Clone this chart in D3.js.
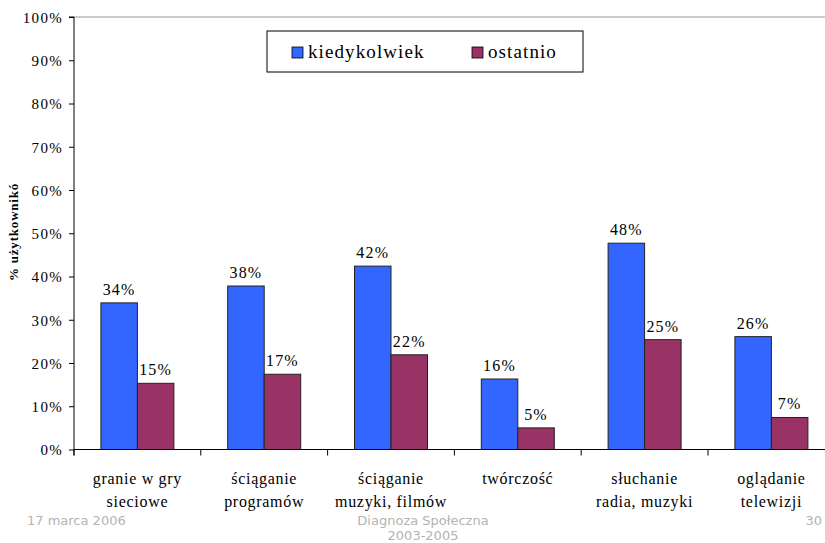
<!DOCTYPE html>
<html><head><meta charset="utf-8">
<script src="https://cdn.jsdelivr.net/npm/d3@7"></script>
<style>body{margin:0;background:#fff}svg{display:block}</style>
</head><body><svg id="c" width="825" height="543"></svg>
<script>
const categories = [["granie w gry","sieciowe"],["ściąganie","programów"],["ściąganie","muzyki, filmów"],["twórczość"],["słuchanie","radia, muzyki"],["oglądanie","telewizji"]];
const seriesNames = ["kiedykolwiek","ostatnio"];
const kiedykolwiek = [33.9, 37.8, 42.4, 16.3, 47.7, 26.1];
const ostatnio = [15.3, 17.4, 21.9, 5.0, 25.4, 7.4];
const yTicks = [0,10,20,30,40,50,60,70,80,90,100];
const colors = ["#3366FF","#993366"];

const svg = d3.select("#c");
const catKeys = categories.map((c,i)=>i);
const x0 = d3.scaleBand().domain(catKeys).range([74, 834.8]).padding(0);
const x1 = d3.scaleBand().domain(seriesNames).range([0, x0.bandwidth()]).paddingInner(0).paddingOuter(0.737);
const y = d3.scaleLinear().domain([0,100]).range([449.5, 17]);
const serif = "'Liberation Serif','Times New Roman',serif";

// top border line
svg.append("line").attr("x1",74).attr("x2",825).attr("y1",y(100)).attr("y2",y(100)).attr("stroke","#999").attr("stroke-width",1.2);

// y axis
const yAxis = d3.axisLeft(y).tickValues(yTicks).tickFormat(d=>d+"%").tickSize(5).tickPadding(6);
const ya = svg.append("g").attr("transform","translate(74,0)").call(yAxis);
ya.select(".domain").attr("stroke","#000").attr("d","M-5,"+y(100)+"H0V"+(y(0)+6));
ya.selectAll("text").attr("font-family",serif).attr("font-size",15).attr("letter-spacing",1.3).attr("fill","#000").attr("dy","0.35em");
ya.selectAll(".tick line").attr("stroke","#000");

// bars
const data = [kiedykolwiek, ostatnio];
const g = svg.append("g");
seriesNames.forEach((s,si)=>{
  g.selectAll(".b"+si).data(data[si]).enter().append("rect")
    .attr("x",(d,i)=>x0(i)+x1(s)).attr("width",x1.bandwidth())
    .attr("y",d=>y(d)).attr("height",d=>y(0)-y(d))
    .attr("fill",colors[si]).attr("stroke","#222").attr("stroke-width",1);
  g.selectAll(".l"+si).data(data[si]).enter().append("text")
    .attr("x",(d,i)=>x0(i)+x1(s)+x1.bandwidth()/2).attr("y",d=>y(d)-8)
    .attr("text-anchor","middle").attr("font-family",serif).attr("font-size",16)
    .attr("letter-spacing",1.2).text(d=>Math.round(d)+"%");
});

// x axis
svg.append("line").attr("x1",74).attr("x2",825).attr("y1",y(0)).attr("y2",y(0)).attr("stroke","#000");
catKeys.forEach(i=>{
  svg.append("line").attr("x1",x0(i)).attr("x2",x0(i)).attr("y1",y(0)).attr("y2",y(0)+6).attr("stroke","#000");
  const t = svg.append("text").attr("text-anchor","middle").attr("font-family",serif).attr("font-size",16).attr("letter-spacing",0.7);
  categories[i].forEach((ln,k)=>{
    t.append("tspan").attr("x",x0(i)+x0.bandwidth()/2).attr("y",484+k*23).text(ln);
  });
});

// y title
svg.append("text").attr("transform","translate(18,232) rotate(-90)").attr("text-anchor","middle")
  .attr("font-family",serif).attr("font-weight","bold").attr("font-size",13).attr("letter-spacing",0.8).text("% użytkownikó");

// legend
const lg = svg.append("g");
lg.append("rect").attr("x",267).attr("y",31).attr("width",316).attr("height",41).attr("fill","#fff").attr("stroke","#000");
const legX = [292, 472];
seriesNames.forEach((s,si)=>{
  lg.append("rect").attr("x",legX[si]).attr("y",47).attr("width",11).attr("height",11).attr("fill",colors[si]).attr("stroke","#000").attr("stroke-width",0.8);
  lg.append("text").attr("x",legX[si]+16).attr("y",58).attr("font-family",serif).attr("font-size",19).attr("letter-spacing",1.1).text(s);
});

// footer
const sans = "'DejaVu Sans',Verdana,sans-serif";
const foot = [["17 marca 2006",27,525,"start"],["Diagnoza Społeczna",423,525,"middle"],["2003-2005",423,540,"middle"],["30",822,525,"end"]];
foot.forEach(f=>svg.append("text").attr("x",f[1]).attr("y",f[2]).attr("text-anchor",f[3]).attr("font-family",sans).attr("font-size",13).attr("fill","#b3b3b3").text(f[0]));
</script></body></html>
